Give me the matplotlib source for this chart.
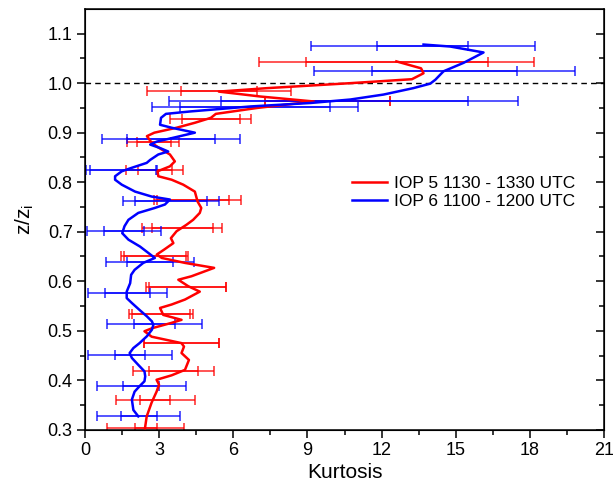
import numpy as np
import matplotlib
matplotlib.use('Agg')
import matplotlib.pyplot as plt

plt.rcParams['font.family'] = ['Liberation Sans', 'DejaVu Sans']

# IOP 5 profile (z/zi, kurtosis)
red_z = [0.303, 0.327, 0.355, 0.377, 0.391, 0.401, 0.41, 0.421, 0.441, 0.455, 0.468,
         0.475, 0.488, 0.499, 0.505, 0.516, 0.522, 0.532, 0.546, 0.553, 0.563, 0.579,
         0.59, 0.603, 0.61, 0.627, 0.637, 0.647, 0.654, 0.664, 0.677, 0.687, 0.701,
         0.714, 0.724, 0.738, 0.748, 0.761, 0.781, 0.795, 0.805, 0.812, 0.822, 0.832,
         0.842, 0.856, 0.869, 0.879, 0.893, 0.9, 0.91, 0.92, 0.93, 0.938, 0.95, 0.963,
         0.973, 0.983, 0.99, 1.0, 1.008, 1.02, 1.03, 1.044]
red_k = [2.42, 2.49, 2.69, 2.89, 2.99, 2.89, 3.5, 4.04, 4.2, 3.9, 4.0,
         3.9, 2.69, 2.4, 2.7, 3.5, 3.9, 3.16, 3.03, 3.5, 4.04, 4.64,
         4.17, 3.77, 4.3, 5.22, 4.04, 3.1, 2.9, 3.2, 3.57, 3.47, 3.7,
         4.1, 4.37, 4.64, 4.7, 4.55, 4.44, 3.97, 3.5, 2.96, 2.93, 3.43,
         3.63, 3.43, 3.0, 2.7, 2.5, 2.8, 3.7, 4.44, 5.09, 5.29, 6.97, 9.26,
         7.1, 5.41, 7.38, 10.74, 13.23, 13.7, 13.6, 12.6]

# IOP 6 profile
blue_z = [0.327, 0.34, 0.361, 0.377, 0.388, 0.398, 0.408, 0.418, 0.431, 0.445, 0.455,
          0.465, 0.475, 0.489, 0.502, 0.512, 0.519, 0.529, 0.542, 0.556, 0.566, 0.579,
          0.596, 0.613, 0.623, 0.637, 0.647, 0.657, 0.67, 0.684, 0.697, 0.711, 0.724,
          0.738, 0.748, 0.755, 0.765, 0.771, 0.781, 0.795, 0.805, 0.812, 0.822, 0.829,
          0.839, 0.845, 0.856, 0.862, 0.869, 0.876, 0.882, 0.889, 0.9, 0.91, 0.916,
          0.93, 0.938, 0.943, 0.953, 0.96, 0.967, 0.977, 0.99, 0.999, 1.007, 1.024,
          1.041, 1.062, 1.074, 1.078]
blue_k = [2.15, 1.95, 1.89, 2.0, 2.2, 2.4, 2.43, 2.4, 2.15, 1.89, 1.8,
          1.95, 2.2, 2.5, 2.7, 2.76, 2.7, 2.5, 2.2, 1.89, 1.68, 1.68,
          1.82, 1.86, 2.0, 2.35, 2.82, 2.56, 2.22, 1.75, 1.5, 1.59, 1.75,
          2.15, 2.82, 3.23, 3.43, 2.69, 2.02, 1.48, 1.21, 1.21, 1.48, 1.88,
          2.49, 2.63, 2.96, 3.36, 3.03, 2.63, 2.9, 3.5, 4.44, 3.5, 3.03,
          3.07, 3.27, 4.28, 6.7, 9.13, 10.74, 12.08, 13.29, 13.97, 14.18, 14.51,
          15.32, 16.13, 14.78, 13.7]

# error bars: outer range and inner range
red_bar_z = [0.303, 0.361, 0.419, 0.476, 0.534, 0.589, 0.65, 0.708, 0.765, 0.824, 0.882,
             0.928, 0.963, 0.985, 1.043]
red_lo = [0.88, 1.23, 1.92, 2.4, 1.79, 2.46, 1.45, 2.3, 2.8, 1.64, 1.71, 3.45, 7.28, 2.5, 7.04]
red_hi = [4.01, 4.44, 5.22, 5.4, 4.35, 5.69, 4.15, 5.52, 6.3, 3.97, 3.81, 6.7, 12.33, 8.32, 18.19]
red_in_lo = [2.02, 2.22, 2.57, 2.4, 1.9, 2.6, 1.56, 2.7, 2.9, 2.13, 2.09, 3.9, 7.28, 3.88, 8.93]
red_in_hi = [2.9, 3.45, 4.55, 5.4, 4.25, 5.69, 4.08, 5.16, 5.82, 3.53, 3.47, 6.27, 12.33, 6.95, 16.3]

blue_bar_z = [0.327, 0.389, 0.452, 0.514, 0.577, 0.639, 0.701, 0.763, 0.825, 0.888, 0.951,
              0.963, 1.025, 1.076]
blue_lo = [0.47, 0.47, 0.13, 0.88, 0.11, 0.85, 0.08, 1.55, 0.05, 0.67, 2.69, 3.41, 9.26, 9.13]
blue_hi = [3.85, 4.08, 3.51, 4.72, 3.31, 4.41, 3.07, 5.4, 2.9, 6.26, 11.05, 17.54, 19.83, 18.2]
blue_in_lo = [1.43, 1.52, 1.22, 1.96, 0.81, 1.7, 0.75, 2.03, 0.2, 1.71, 3.85, 5.49, 11.62, 11.82]
blue_in_hi = [2.91, 3.0, 2.42, 3.65, 2.63, 3.54, 2.4, 4.93, 2.85, 5.25, 9.9, 15.5, 17.47, 15.52]

labels = ['IOP 5 1130 - 1330 UTC', 'IOP 6 1100 - 1200 UTC']

fig = plt.figure(figsize=(6.13, 4.94), dpi=100)
ax = fig.add_axes([0.139, 0.13, 0.846, 0.852])


def bars(z, lo, hi, color):
    lo = np.array(lo)
    hi = np.array(hi)
    ax.errorbar((lo + hi) / 2, z, xerr=(hi - lo) / 2, fmt='none', ecolor=color,
                elinewidth=1.1, capsize=3.5, capthick=1.1, alpha=0.85, zorder=2)


bars(red_bar_z, red_lo, red_hi, 'red')
bars(red_bar_z, red_in_lo, red_in_hi, 'red')
bars(blue_bar_z, blue_lo, blue_hi, 'blue')
bars(blue_bar_z, blue_in_lo, blue_in_hi, 'blue')

ax.plot(red_k, red_z, color='red', lw=1.8, label=labels[0], zorder=3)
ax.plot(blue_k, blue_z, color='blue', lw=1.8, label=labels[1], zorder=3)

ax.axhline(1.0, color='black', lw=1, ls=(0, (4, 3)), zorder=1)

ax.set_xlim(0, 21)
ax.set_ylim(0.3, 1.15)
ax.set_xticks(np.arange(0, 22, 3))
ax.set_xticks(np.arange(0, 21, 1.5), minor=True)
ax.set_yticks(np.arange(0.3, 1.11, 0.1))
ax.set_yticks(np.arange(0.3, 1.15, 0.05), minor=True)
ax.yaxis.set_major_formatter(matplotlib.ticker.FormatStrFormatter('%.1f'))

ax.tick_params(axis='both', which='major', length=6, width=1.1, labelsize=13, pad=3)
ax.tick_params(axis='both', which='minor', length=3.5, width=1.1)
ax.tick_params(axis='both', which='both', direction='out')
for sp in ax.spines.values():
    sp.set_linewidth(1.1)

# mirrored inward ticks on the right side
ax2 = ax.twinx()
ax2.set_ylim(ax.get_ylim())
ax2.set_yticks(ax.get_yticks())
ax2.set_yticks(ax.get_yticks(minor=True), minor=True)
ax2.tick_params(axis='y', which='both', direction='in', labelright=False, width=1.1)
ax2.tick_params(axis='y', which='major', length=6)
ax2.tick_params(axis='y', which='minor', length=3.5)

ax.set_xlabel('Kurtosis', fontsize=15, labelpad=3)
ax.set_ylabel(r'z/z$_\mathregular{i}$', fontsize=15, labelpad=8)

ax.legend(loc='center left', bbox_to_anchor=(0.515, 0.564), frameon=False, fontsize=12.5,
          borderpad=0, borderaxespad=0, handlelength=2.0, handletextpad=0.4,
          labelspacing=0.2)

fig.savefig('out.png', dpi=100)
